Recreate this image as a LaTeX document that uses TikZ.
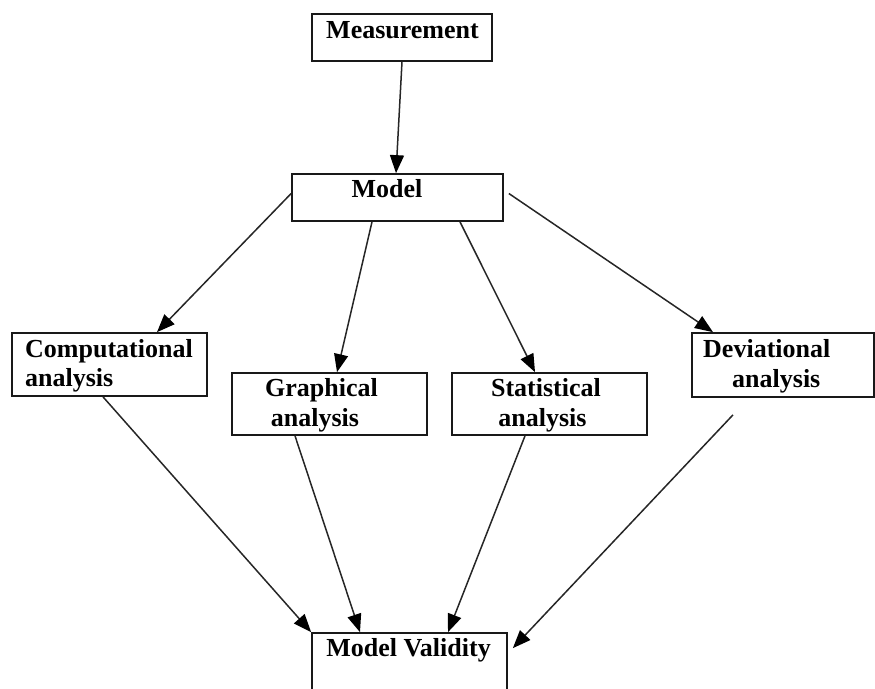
\documentclass[tikz,border=0pt]{standalone}
\usepackage{fontspec}
\setmainfont{Liberation Serif}
\usetikzlibrary{arrows.meta}
\begin{document}
\begin{tikzpicture}[x=1pt,y=-1pt,
  box/.style={draw=black!90,line width=1.7pt,rectangle,inner sep=0pt},
  lbl/.style={inner sep=0pt,anchor=base,font=\fontsize{26}{30}\selectfont\bfseries},
  arr/.style={draw=black!85,line width=1.5pt,-{Triangle[length=18pt,width=14pt,fill=black,color=black]}}]
\useasboundingbox (0,0) rectangle (875,688);
% boxes
\node[box,minimum width=180pt,minimum height=47pt] (meas) at (402,37.5) {};
\node[box,minimum width=211pt,minimum height=47pt] (model) at (397.5,197.5) {};
\node[box,minimum width=195pt,minimum height=63pt] (comp) at (109.5,364.5) {};
\node[box,minimum width=195pt,minimum height=62pt] (graph) at (329.5,404) {};
\node[box,minimum width=195pt,minimum height=62pt] (stat) at (549.5,404) {};
\node[box,minimum width=182pt,minimum height=64pt] (dev) at (783,365) {};
\node[box,minimum width=195pt,minimum height=67pt] (valid) at (409.5,666.5) {};
% texts
\node[lbl] (tmeas) at (402.5,38) {Measurement};
\node[lbl] (tmodel) at (387,197) {Model};
\node[lbl,anchor=base west] (tcomp1) at (25,357) {Computational};
\node[lbl,anchor=base west] (tcomp2) at (25,386) {analysis};
\node[lbl] (tgraph1) at (321.5,396) {Graphical};
\node[lbl] (tgraph2) at (315,426) {analysis};
\node[lbl] (tstat1) at (546,396) {Statistical};
\node[lbl] (tstat2) at (542.5,426) {analysis};
\node[lbl,anchor=base west] (tdev1) at (703,357) {Deviational};
\node[lbl,anchor=base west] (tdev2) at (732,387) {analysis};
\node[lbl] (tvalid) at (408.5,656) {Model Validity};
% arrows
\draw[arr] (meas.south) -- ([xshift=-1.5pt]model.north);
\draw[arr] ([yshift=4pt]model.west) -- ([xshift=47.5pt]comp.north);
\draw[arr] ([xshift=-25.5pt]model.south) -- ([xshift=7.5pt]graph.north);
\draw[arr] ([xshift=62.5pt]model.south) -- ([xshift=-14.5pt]stat.north);
\draw[arr] ([xshift=5pt,yshift=4pt]model.east) -- ([xshift=-70pt]dev.north);
\draw[arr] ([xshift=-6.5pt]comp.south) -- (valid.north west);
\draw[arr] ([xshift=-34.5pt]graph.south) -- ([xshift=-49.5pt]valid.north);
\draw[arr] ([xshift=-24.5pt]stat.south) -- ([xshift=38.5pt]valid.north);
\draw[arr] ([xshift=-50pt,yshift=-17pt]dev.south) -- ([xshift=5pt,yshift=-16pt]valid.north east);
\end{tikzpicture}
\end{document}
